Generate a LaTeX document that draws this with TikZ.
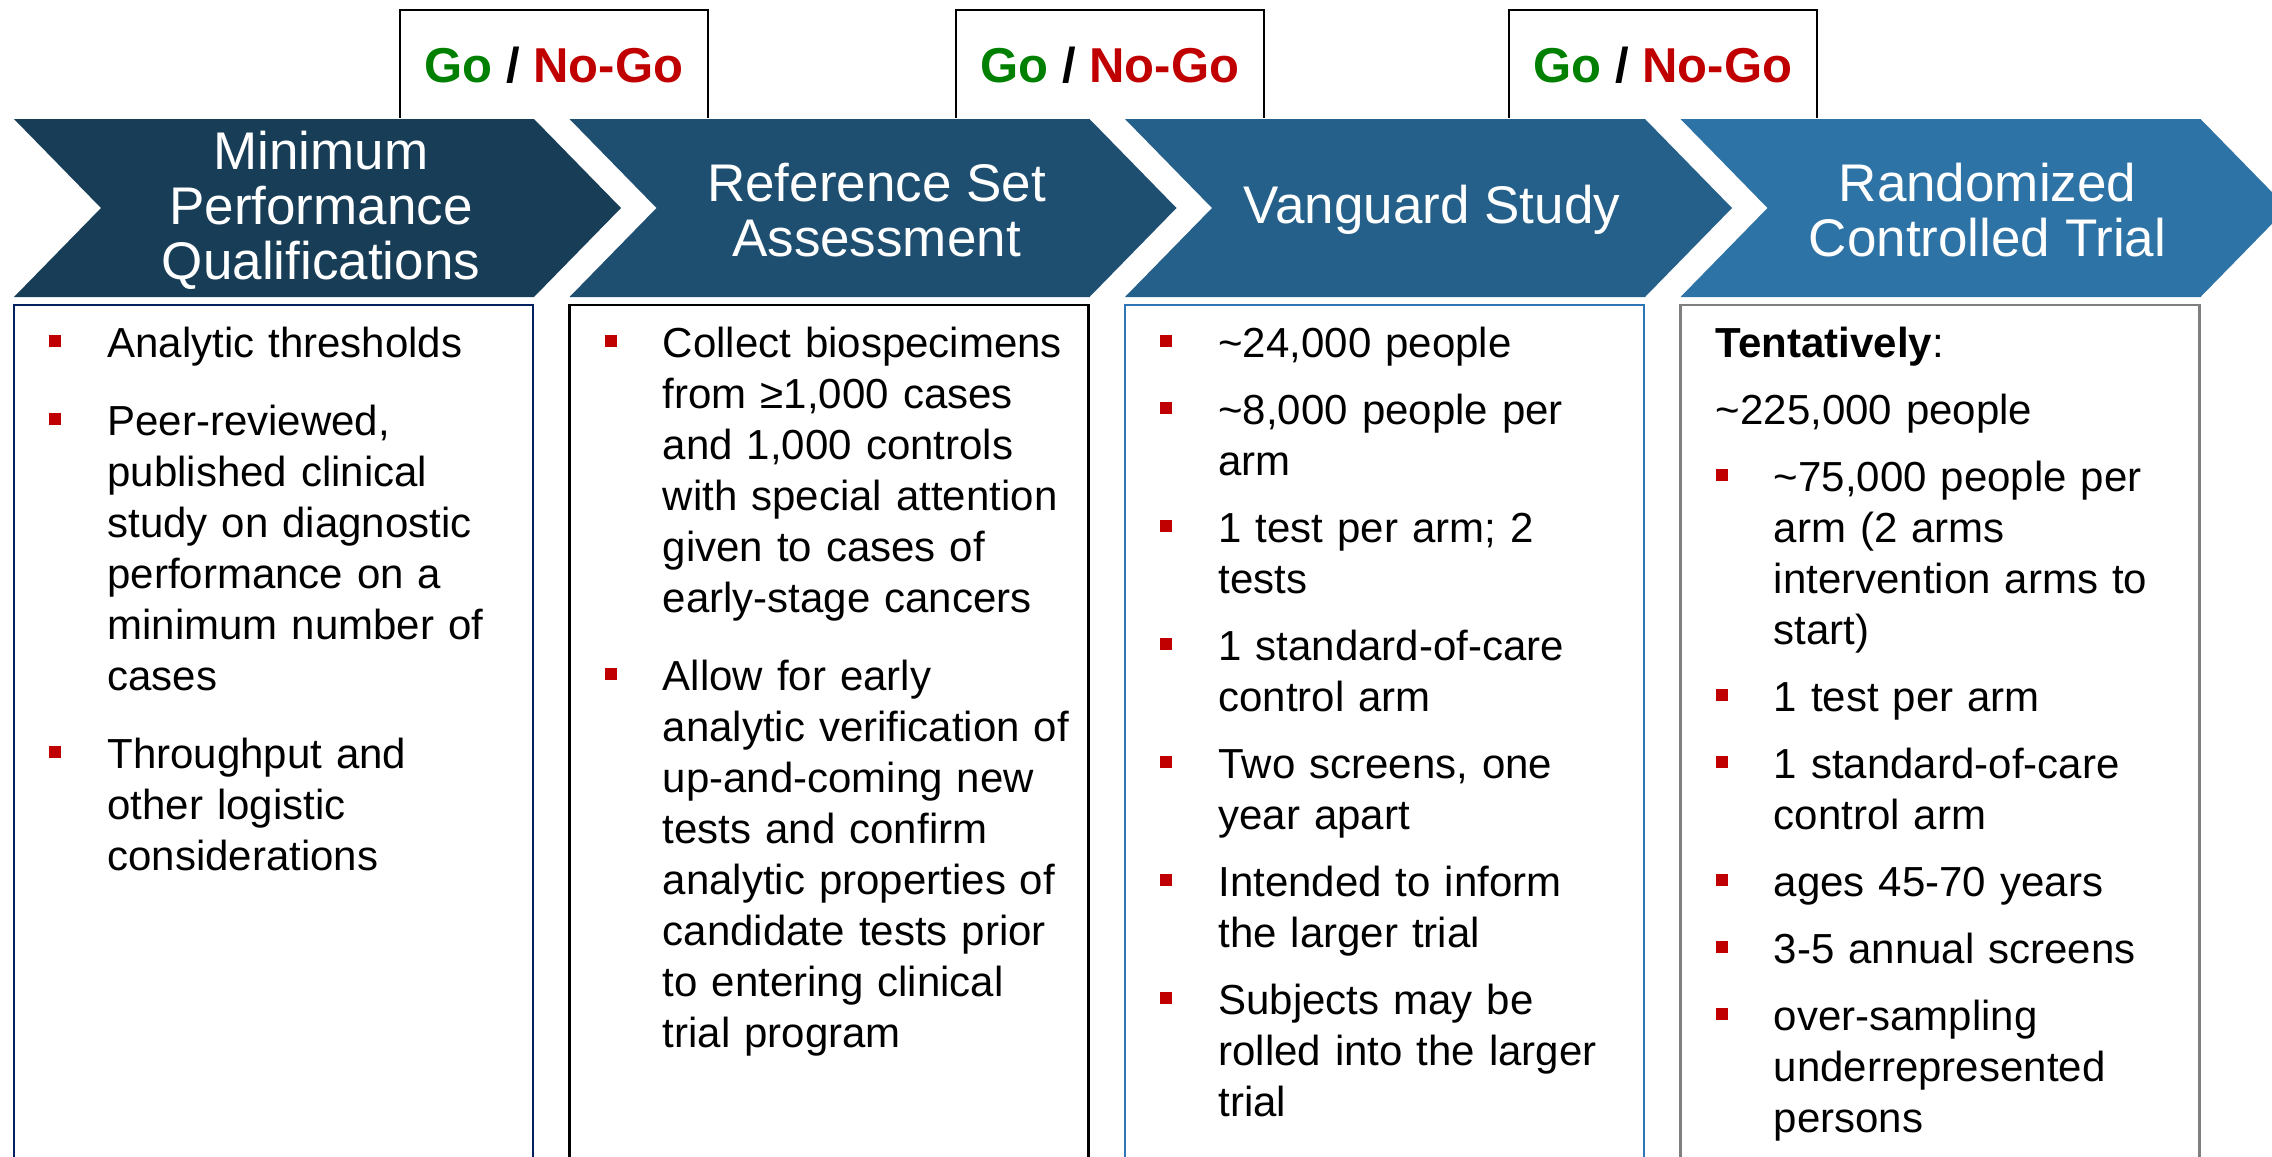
\documentclass[tikz,border=0pt]{standalone}
\usepackage{fontspec}
\setmainfont{Liberation Sans}
\usetikzlibrary{positioning}

\definecolor{chevA}{RGB}{23,61,87}
\definecolor{chevB}{RGB}{30,79,113}
\definecolor{chevC}{RGB}{36,96,138}
\definecolor{chevD}{RGB}{46,115,166}
\definecolor{gogreen}{RGB}{0,128,0}
\definecolor{nogored}{RGB}{192,0,0}
\definecolor{boxnavy}{RGB}{0,32,96}
\definecolor{boxblue}{RGB}{46,117,182}
\definecolor{boxgray}{RGB}{127,127,127}

% red square bullet with hanging indent
\newcommand{\sqbul}{\noindent\hangindent=29pt\hangafter=1%
  \makebox[29pt][l]{\textcolor{nogored}{\raisebox{5pt}{\rule{6pt}{6pt}}}}}
\newcommand{\nl}{\newline}
\newcommand{\gonogo}{\textcolor{gogreen}{Go} / \textcolor{nogored}{No-Go}}

\begin{document}
\begin{tikzpicture}[x=0.5pt,y=-0.5pt,
  golabel/.style={anchor=base,inner sep=0pt,font=\fontsize{24.5}{28}\selectfont\bfseries},
  stagelabel/.style={align=center,text=white,inner sep=0pt,font=\fontsize{26.5}{27.5}\selectfont},
  listtext/.style={anchor=base west,inner sep=0pt,text width=250pt,
    font=\fontsize{21}{25.5}\selectfont,
    execute at begin node={\raggedright\setlength{\parskip}{#1}}},
  listbox/.style={draw=#1,line width=1.3pt}]
\useasboundingbox (0,0) rectangle (2272,1157);

% go / no-go boxes (open at the bottom, behind the chevrons)
\draw[line width=1pt] (400,118) -- (400,10) -- (708,10) -- (708,118);
\draw[line width=1pt] (956,118) -- (956,10) -- (1264,10) -- (1264,118);
\draw[line width=1pt] (1509,118) -- (1509,10) -- (1817,10) -- (1817,118);
\node[golabel] (go1) at (554,82) {\gonogo};
\node[golabel] (go2) at (1110,82) {\gonogo};
\node[golabel] (go3) at (1663,82) {\gonogo};

% chevrons
\fill[chevA] (14,119) -- (534,119) -- (621,208) -- (534,297) -- (14,297) -- (101,208) -- cycle;
\fill[chevB] (569.5,119) -- (1089.5,119) -- (1176.5,208) -- (1089.5,297) -- (569.5,297) -- (656.5,208) -- cycle;
\fill[chevC] (1125,119) -- (1645,119) -- (1732,208) -- (1645,297) -- (1125,297) -- (1212,208) -- cycle;
\fill[chevD] (1680.5,119) -- (2200.5,119) -- (2287.5,208) -- (2200.5,297) -- (1680.5,297) -- (1767.5,208) -- cycle;

\node[stagelabel] (stage1) at (321,210) {Minimum\\Performance\\Qualifications};
\node[stagelabel] (stage2) at (876.5,210) {Reference Set\\Assessment};
\node[stagelabel] (stage3) at (1432,210) {Vanguard Study};
\node[stagelabel] (stage4) at (1987.5,210) {Randomized\\Controlled Trial};

% content boxes
\draw[listbox=boxnavy] (14,1180) -- (14,305) -- (533,305) -- (533,1180);
\draw[listbox=black] (569.5,1180) -- (569.5,305) -- (1088.5,305) -- (1088.5,1180);
\draw[listbox=boxblue] (1125,1180) -- (1125,305) -- (1644,305) -- (1644,1180);
\draw[listbox=boxgray] (1680.5,1180) -- (1680.5,305) -- (2199.5,305) -- (2199.5,1180);

\node[listtext=13.5pt] (list1) at (49,357) {%
\sqbul Analytic thresholds\par
\sqbul Peer-reviewed,\nl published clinical\nl study on diagnostic\nl performance on a\nl minimum number of\nl cases\par
\sqbul Throughput and\nl other logistic\nl considerations\par};

\node[listtext=13.5pt] (list2) at (604.5,357) {%
\sqbul Collect biospecimens\nl from ≥1,000 cases\nl and 1,000 controls\nl with special attention\nl given to cases of\nl early-stage cancers\par
\sqbul Allow for early\nl analytic verification of\nl up-and-coming new\nl tests and confirm\nl analytic properties of\nl candidate tests prior\nl to entering clinical\nl trial program\par};

\node[listtext=8pt] (list3) at (1160,357) {%
\sqbul \textasciitilde24,000 people\par
\sqbul \textasciitilde8,000 people per\nl arm\par
\sqbul 1 test per arm; 2\nl tests\par
\sqbul 1 standard-of-care\nl control arm\par
\sqbul Two screens, one\nl year apart\par
\sqbul Intended to inform\nl the larger trial\par
\sqbul Subjects may be\nl rolled into the larger\nl trial\par};

\node[listtext=8pt] (list4) at (1715.5,357) {%
\noindent\textbf{Tentatively}:\par
\noindent\textasciitilde225,000 people\par
\sqbul \textasciitilde75,000 people per\nl arm (2 arms\nl intervention arms to\nl start)\par
\sqbul 1 test per arm\par
\sqbul 1 standard-of-care\nl control arm\par
\sqbul ages 45-70 years\par
\sqbul 3-5 annual screens\par
\sqbul over-sampling\nl underrepresented\nl persons\par};
\end{tikzpicture}
\end{document}
